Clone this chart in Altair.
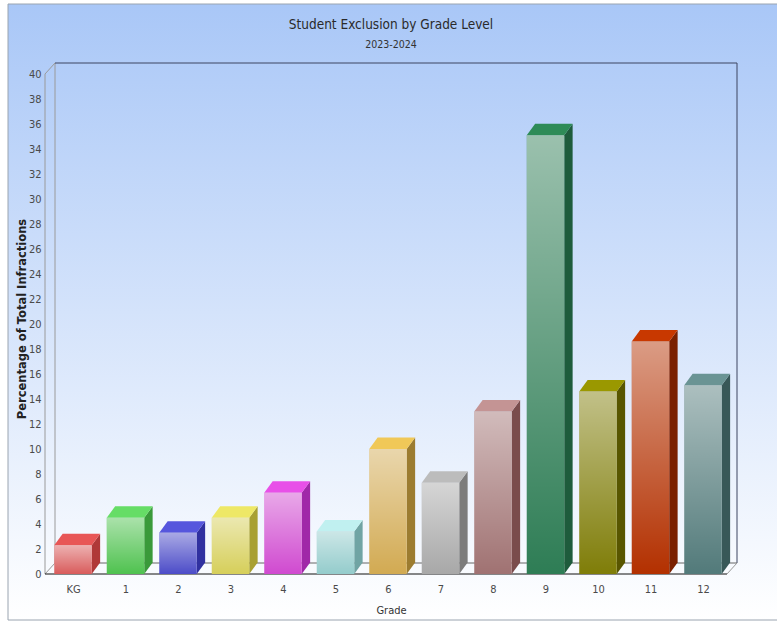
import altair as alt
import pandas as pd

# ---- data ----
grades = ["KG", "1", "2", "3", "4", "5", "6", "7", "8", "9", "10", "11", "12"]
values = [2.3, 4.5, 3.3, 4.5, 6.5, 3.4, 10.0, 7.3, 13.0, 35.1, 14.6, 18.6, 15.1]
y_ticks = list(range(0, 41, 2))

# ---- styles ----
base_colors = ["#d95c5c", "#4fc24f", "#4c4cc8", "#d6cf5a", "#d04ad0", "#94cccc", "#d2aa52",
               "#a8a8a8", "#a07272", "#2e7d55", "#7f7d08", "#b33000", "#527a7a"]
top_colors = ["#e85656", "#66dd66", "#5656dd", "#eee866", "#e850e8", "#c0f0f0", "#f0c858",
              "#bcbcbc", "#c49494", "#2e8b57", "#9a9800", "#c83800", "#6a9494"]
side_colors = ["#b03838", "#3a9a3a", "#3030a0", "#a8a032", "#a028a8", "#70a4a4", "#9c7c30",
               "#7c7c7c", "#7a4c4c", "#1e5c3c", "#585600", "#7a2000", "#385858"]

W, H = 692, 511
X_MIN, X_MAX = -0.5333, 12.648
Y_MAX = 40.88
HW = 0.357             # half bar width (category units)
DXB, DYB = 0.16, 0.92  # bar depth offsets
DXW, DYW = 0.1905, 0.88  # wall depth offsets

FONT = "DejaVu Sans Condensed, Liberation Sans Narrow, Open Sans, sans-serif"

idx = list(range(len(grades)))
bars = pd.DataFrame({"grade": grades, "i": idx, "v": values})
bars["x1"] = bars["i"] - HW
bars["x2"] = bars["i"] + HW
bars["y0"] = 0.0

side_rows, top_rows = [], []
for g, i, v in zip(grades, idx, values):
    side_rows.append({"grade": g, "x": i + HW, "ya": 0.0, "yb": v})
    side_rows.append({"grade": g, "x": i + HW + DXB, "ya": DYB, "yb": v + DYB})
    top_rows.append({"grade": g, "y": v, "xa": i - HW, "xb": i + HW})
    top_rows.append({"grade": g, "y": v + DYB, "xa": i - HW + DXB, "xb": i + HW + DXB})
side = pd.DataFrame(side_rows)
top = pd.DataFrame(top_rows)

xl = X_MIN
xr = X_MAX - DXW
segs = pd.DataFrame([
    {"x": xl, "y": 0, "x2": xl, "y2": 40, "c": "light"},
    {"x": xl, "y": 40, "x2": xl + DXW, "y2": Y_MAX, "c": "light"},
    {"x": xl + DXW, "y": Y_MAX, "x2": xl + DXW, "y2": DYW, "c": "light"},
    {"x": xl + DXW, "y": Y_MAX, "x2": X_MAX, "y2": Y_MAX, "c": "dark"},
    {"x": X_MAX, "y": Y_MAX, "x2": X_MAX, "y2": DYW, "c": "dark"},
    {"x": xl + DXW, "y": DYW, "x2": X_MAX, "y2": DYW, "c": "mid"},
    {"x": xl, "y": 0, "x2": xl + DXW, "y2": DYW, "c": "light"},
    {"x": xr, "y": 0, "x2": X_MAX, "y2": DYW, "c": "light"},
    {"x": xl, "y": 0, "x2": xr, "y2": 0, "c": "front"},
])

xs = alt.Scale(domain=[X_MIN, X_MAX], nice=False, zero=False)
ys = alt.Scale(domain=[0, Y_MAX], nice=False, zero=False)

label_expr = "[" + ",".join("'%s'" % g for g in grades) + "][datum.value]"
X_TITLE = "Grade"
Y_TITLE = "Percentage of Total Infractions"
x_axis = alt.Axis(values=idx, labelExpr=label_expr, domain=False, ticks=False, grid=False,
                  labelPadding=9, labelFont=FONT, labelFontSize=11, labelColor="#4a4a4a",
                  titleFont=FONT, titleFontSize=11, titleFontWeight="normal",
                  titleColor="#333", titlePadding=10, zindex=2)
y_axis = alt.Axis(values=y_ticks, domain=False, ticks=False, grid=False,
                  labelPadding=4, labelFont=FONT, labelFontSize=11, labelColor="#4a4a4a",
                  titleFont="DejaVu Sans", titleFontSize=11.5, titleFontWeight="bold",
                  titleColor="#222", titlePadding=1, zindex=2)


def X(f):
    return alt.X(f, scale=xs, axis=x_axis, title=X_TITLE)


def Y(f):
    return alt.Y(f, scale=ys, axis=y_axis, title=Y_TITLE)


bg = alt.Chart(pd.DataFrame({"a": [0]})).mark_rect(
    fill=alt.Gradient(gradient="linear", x1=0, y1=0, x2=0, y2=1,
                      stops=[alt.GradientStop(color="#a9c7f7", offset=0),
                             alt.GradientStop(color="#ffffff", offset=1)]),
    stroke="#9aa4b0", strokeWidth=1
).encode(x=alt.value(-37), x2=alt.value(W + 60), y=alt.value(-59), y2=alt.value(H + 46))

frame = alt.Chart(segs).mark_rule(strokeWidth=1).encode(
    x=X("x:Q"), x2="x2:Q",
    y=Y("y:Q"), y2="y2:Q",
    stroke=alt.Stroke("c:N", scale=alt.Scale(domain=["light", "dark", "mid", "front"],
                                             range=["#9a9a9a", "#3c4460", "#666666", "#111111"]),
                      legend=None),
)

front = alt.Chart(bars).mark_rect().encode(
    x=X("x1:Q"), x2="x2:Q",
    y=Y("y0:Q"), y2="v:Q",
    fill=alt.Fill("grade:N", scale=alt.Scale(domain=grades, range=base_colors), legend=None),
)

shine = alt.Chart(bars).mark_rect(
    fill=alt.Gradient(gradient="linear", x1=0, y1=0, x2=0, y2=1,
                      stops=[alt.GradientStop(color="rgba(255,255,255,0.52)", offset=0),
                             alt.GradientStop(color="rgba(255,255,255,0.0)", offset=1)])
).encode(
    x=X("x1:Q"), x2="x2:Q",
    y=Y("y0:Q"), y2="v:Q",
)

side_layer = alt.Chart(side).mark_area(line=False).encode(
    x=X("x:Q"),
    y=Y("ya:Q"), y2="yb:Q",
    fill=alt.Fill("grade:N", scale=alt.Scale(domain=grades, range=side_colors), legend=None),
    detail="grade:N",
)

top_layer = alt.Chart(top).mark_area(orient="horizontal", line=False).encode(
    y=Y("y:Q"),
    x=X("xa:Q"), x2="xb:Q",
    fill=alt.Fill("grade:N", scale=alt.Scale(domain=grades, range=top_colors), legend=None),
    detail="grade:N",
)

chart = alt.layer(bg, frame, side_layer, top_layer, front, shine).resolve_scale(
    fill="independent"
).properties(
    width=W, height=H,
    autosize=alt.AutoSizeParams(type="none"),
    padding={"left": 45, "top": 63, "right": 40, "bottom": 52},
    background="white",
    title=alt.TitleParams(
        text="Student Exclusion by Grade Level", subtitle="2023-2024",
        font=FONT, fontSize=13.5, fontWeight=500, color="#2a2a2a",
        subtitleFont=FONT, subtitleFontSize=10.5, subtitleColor="#333",
        subtitlePadding=9, anchor="middle", offset=0, dy=47, frame="group", zindex=2,
    ),
).configure_view(stroke=None)

chart.save("out.html", embed_options={"renderer": "svg", "actions": False})
